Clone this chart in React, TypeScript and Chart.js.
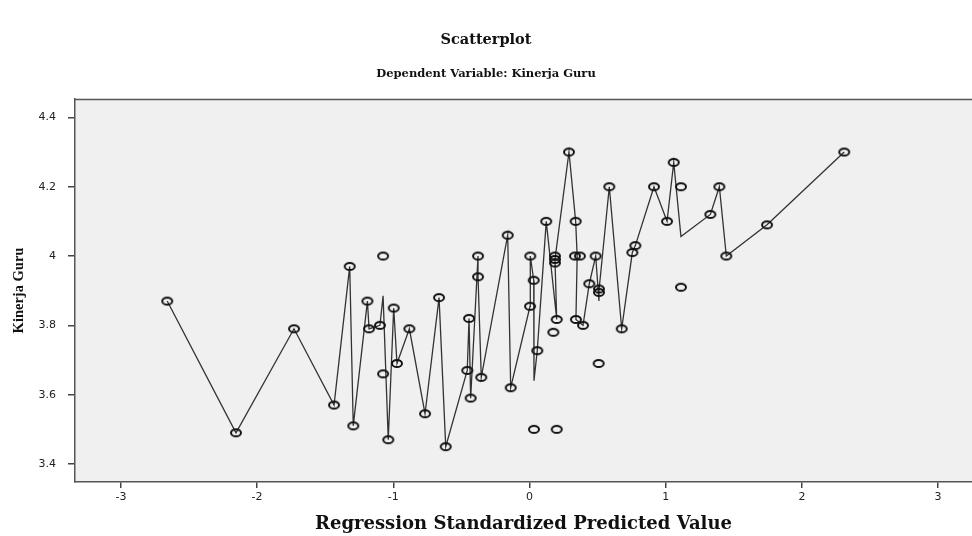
import React, { useEffect, useRef } from "react";
import { Chart, registerables } from "chart.js";

Chart.register(...registerables);

// ---- data ----
const pointX = [
  -2.66, -2.155, -1.729, -1.435, -1.32, -1.294, -1.19, -1.178, -1.098, -1.075,
  -1.075, -1.037, -0.997, -0.973, -0.882, -0.767, -0.664, -0.615, -0.457, -0.444,
  -0.432, -0.378, -0.378, -0.354, -0.16, -0.138, 0.006, 0.004, 0.031, 0.033,
  0.057, 0.123, 0.2, 0.175, 0.2, 0.187, 0.187, 0.187, 0.29, 0.339,
  0.334, 0.37, 0.341, 0.393, 0.486, 0.439, 0.51, 0.51, 0.508, 0.586,
  0.677, 0.755, 0.777, 0.914, 1.01, 1.059, 1.112, 1.112, 1.328, 1.394,
  1.445, 1.744, 2.311,
];
const pointY = [
  3.87, 3.49, 3.79, 3.57, 3.97, 3.51, 3.87, 3.79, 3.8, 4.0,
  3.66, 3.47, 3.85, 3.69, 3.79, 3.545, 3.88, 3.45, 3.67, 3.82,
  3.59, 3.94, 4.0, 3.65, 4.06, 3.62, 4.0, 3.855, 3.93, 3.5,
  3.727, 4.1, 3.817, 3.78, 3.5, 4.0, 3.99, 3.98, 4.3, 4.1,
  4.0, 4.0, 3.817, 3.8, 4.0, 3.92, 3.905, 3.895, 3.69, 4.2,
  3.79, 4.01, 4.03, 4.2, 4.1, 4.27, 4.2, 3.91, 4.12, 4.2,
  4.0, 4.09, 4.3,
];

const lineX = [
  -2.66, -2.155, -1.729, -1.435, -1.32, -1.294, -1.19, -1.178, -1.098, -1.075,
  -1.037, -0.997, -0.973, -0.882, -0.767, -0.664, -0.615, -0.457, -0.444, -0.432,
  -0.378, -0.378, -0.354, -0.16, -0.138, 0.004, 0.006, 0.031, 0.033, 0.057,
  0.123, 0.2, 0.187, 0.29, 0.339, 0.35, 0.341, 0.393, 0.439, 0.486,
  0.51, 0.51, 0.586, 0.677, 0.755, 0.777, 0.914, 1.01, 1.059, 1.112,
  1.328, 1.394, 1.445, 1.744, 2.311,
];
const lineY = [
  3.87, 3.49, 3.79, 3.57, 3.97, 3.51, 3.87, 3.79, 3.8, 3.885,
  3.47, 3.85, 3.69, 3.79, 3.545, 3.88, 3.45, 3.67, 3.82, 3.59,
  4.0, 3.94, 3.65, 4.06, 3.62, 3.855, 4.0, 3.93, 3.64, 3.727,
  4.1, 3.817, 3.99, 4.3, 4.1, 4.0, 3.817, 3.8, 3.92, 4.0,
  3.87, 3.9, 4.2, 3.79, 4.01, 4.03, 4.2, 4.1, 4.27, 4.056,
  4.12, 4.2, 4.0, 4.09, 4.3,
];

const xTicks = [-3, -2, -1, 0, 1, 2, 3];
const yTicks = [3.4, 3.6, 3.8, 4.0, 4.2, 4.4];
const xMin = -3.337;
const xMax = 3.249;
const yMin = 3.348;
const yMax = 4.453;

const titleText = "Scatterplot";
const subtitleText = "Dependent Variable: Kinerja Guru";
const xTitleText = "Regression Standardized Predicted Value";
const yTitleText = "Kinerja Guru";

function makeMarker(): HTMLCanvasElement {
  const c = document.createElement("canvas");
  c.width = 14;
  c.height = 11;
  const ctx = c.getContext("2d")!;
  ctx.strokeStyle = "#111";
  ctx.lineWidth = 2;
  ctx.beginPath();
  ctx.ellipse(7, 5.5, 5, 3.6, 0, 0, Math.PI * 2);
  ctx.stroke();
  return c;
}

const plotBackground = {
  id: "plotBackground",
  beforeDraw(chart: any) {
    const { ctx, chartArea: a } = chart;
    ctx.save();
    ctx.fillStyle = "#f0f0f0";
    ctx.fillRect(a.left, a.top, a.right - a.left, a.bottom - a.top);
    ctx.strokeStyle = "#555";
    ctx.lineWidth = 1.5;
    ctx.beginPath();
    ctx.moveTo(a.right, a.top + 0.5);
    ctx.lineTo(a.left, a.top + 0.5);
    ctx.stroke();
    ctx.restore();
  },
};

export default function App() {
  const ref = useRef<HTMLCanvasElement | null>(null);

  useEffect(() => {
    if (!ref.current) return;
    const marker = makeMarker();
    const points = pointX.map((x, i) => ({ x, y: pointY[i] }));
    const line = lineX.map((x, i) => ({ x, y: lineY[i] }));
    const tickFont = { family: "DejaVu Sans", size: 11 };

    const chart = new Chart(ref.current, {
      type: "scatter",
      data: {
        datasets: [
          {
            label: "points",
            data: points,
            pointStyle: marker as any,
            pointRadius: 5,
            pointHoverRadius: 5,
            showLine: false,
          },
          {
            label: "line",
            data: line,
            showLine: true,
            borderColor: "#333",
            borderWidth: 1.3,
            pointRadius: 0,
            pointHoverRadius: 0,
            tension: 0,
          },
        ],
      },
      options: {
        animation: false,
        responsive: false,
        devicePixelRatio: 1,
        layout: { padding: 0, autoPadding: false },
        plugins: {
          legend: { display: false },
          tooltip: { enabled: false },
          title: {
            display: true,
            text: titleText,
            color: "#111",
            font: { family: "DejaVu Serif", size: 14.5, weight: "bold" },
            padding: { top: 31.3, bottom: 0 },
          },
          subtitle: {
            display: true,
            text: subtitleText,
            color: "#111",
            font: { family: "DejaVu Serif", size: 11.5, weight: "bold" },
            padding: { top: 18.4, bottom: 18.1 },
          },
        },
        scales: {
          x: {
            type: "linear",
            min: xMin,
            max: xMax,
            afterFit: (s: any) => {
              s.height = 54;
              s.paddingLeft = 0;
              s.paddingRight = 0;
            },
            afterBuildTicks: (s: any) => {
              s.ticks = xTicks.map((v) => ({ value: v }));
            },
            ticks: {
              color: "#222",
              font: tickFont,
              padding: 3,
              autoSkip: false,
              maxRotation: 0,
              callback: (v: any) => String(v),
            },
            grid: {
              display: true,
              drawOnChartArea: false,
              drawTicks: true,
              tickLength: 6,
              color: "#444",
              lineWidth: 1.5,
            },
            border: { display: true, color: "#555", width: 1.5 },
            title: {
              display: true,
              text: xTitleText,
              color: "#111",
              font: { family: "DejaVu Serif", size: 18, weight: "bold" },
              padding: { top: 0, bottom: 1.2 },
            },
          },
          y: {
            type: "linear",
            min: yMin,
            max: yMax,
            afterFit: (s: any) => {
              s.width = 75;
              s.paddingTop = 0;
              s.paddingBottom = 0;
            },
            afterBuildTicks: (s: any) => {
              s.ticks = yTicks.map((v) => ({ value: v }));
            },
            ticks: {
              color: "#222",
              font: tickFont,
              padding: 12,
              autoSkip: false,
              callback: (v: any) => String(parseFloat(Number(v).toFixed(1))),
            },
            grid: {
              display: true,
              drawOnChartArea: false,
              drawTicks: true,
              tickLength: 7,
              color: "#444",
              lineWidth: 1.5,
            },
            border: { display: true, color: "#555", width: 1.5 },
            title: {
              display: true,
              text: yTitleText,
              color: "#111",
              font: { family: "Liberation Serif", size: 14.5, weight: "bold" },
              padding: { top: 11, bottom: 0 },
            },
          },
        },
      },
      plugins: [plotBackground],
    });
    return () => chart.destroy();
  }, []);

  return (
    <div style={{ position: "absolute", left: 0, top: 0, width: 972, height: 536, background: "#fff" }}>
      <canvas ref={ref} width={972} height={536} style={{ width: 972, height: 536, display: "block" }} />
    </div>
  );
}
